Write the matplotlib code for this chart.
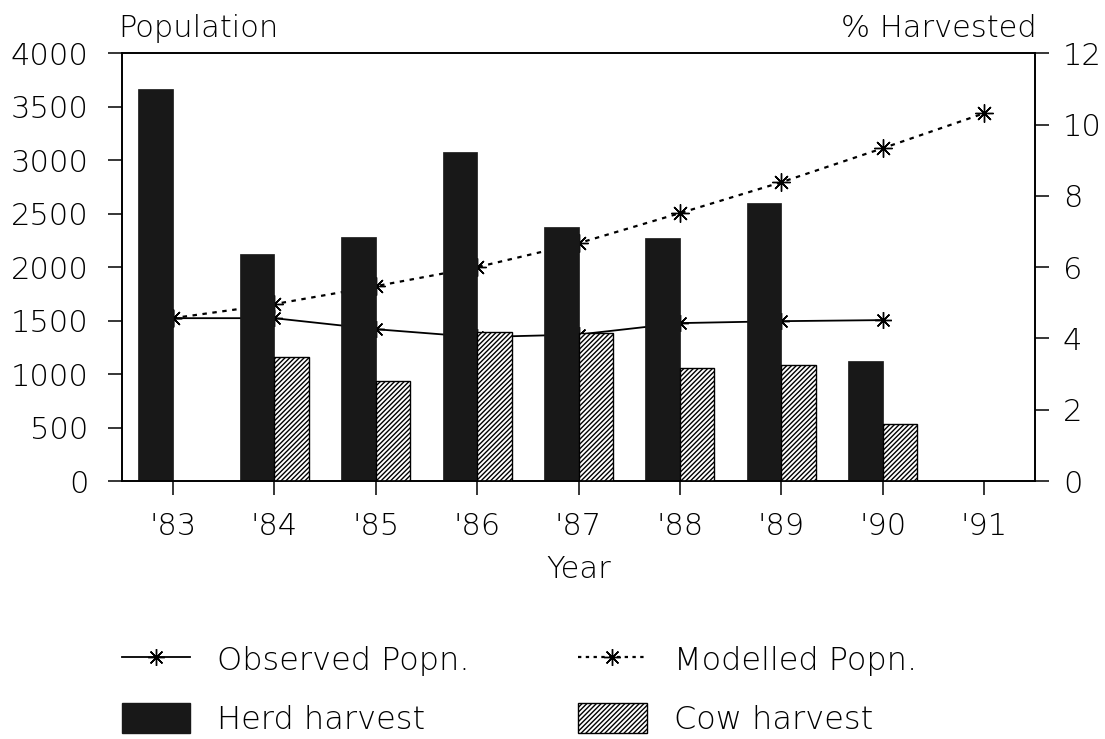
import matplotlib
matplotlib.use("Agg")
import matplotlib.pyplot as plt
from matplotlib.lines import Line2D
from matplotlib.patches import Patch
import numpy as np

plt.rcParams['font.family'] = ['DejaVu Sans']
plt.rcParams['font.weight'] = 'light'
plt.rcParams['axes.labelweight'] = 'light'
plt.rcParams['hatch.linewidth'] = 1.0

years = ["'83", "'84", "'85", "'86", "'87", "'88", "'89", "'90", "'91"]
observed_popn = [1523, 1523, 1420, 1346, 1370, 1477, 1495, 1505]
modelled_popn = [1523, 1654, 1822, 2000, 2224, 2505, 2794, 3112, 3439]
herd_harvest = [11.0, 6.36, 6.84, 9.22, 7.12, 6.81, 7.79, 3.36]
cow_harvest = [None, 3.49, 2.80, 4.18, 4.15, 3.17, 3.25, 1.60]

FS = 22
LFS = 23
fig = plt.figure(figsize=(11.05, 7.39), dpi=100)
ax = fig.add_axes([0.1104, 0.349, 0.8263, 0.579])
ax2 = ax.twinx()

x = np.arange(len(years))
ast = (8, 2, 0)
ax.plot(x[:len(observed_popn)], observed_popn, color='black', lw=1.3,
        marker=ast, markersize=12, mew=1.0)
ax.plot(x[:len(modelled_popn)], modelled_popn, color='black', lw=1.6,
        linestyle=(0, (2, 2.5)), marker=ast, markersize=13, mew=1.0)

w = 0.34
xb = x[:len(herd_harvest)]
ax2.bar(xb - w / 2, herd_harvest, width=w, color='#181818', edgecolor='#181818', lw=0.5)
xc = [i for i, v in enumerate(cow_harvest) if v is not None]
vc = [v for v in cow_harvest if v is not None]
ax2.bar(np.array(xc) + w / 2, vc, width=w, color='white', edgecolor='black',
        hatch='///////', lw=1.0)

ax.set_xlim(-0.5, 8.5)
ax.set_ylim(0, 4000)
ax2.set_ylim(0, 12)
ax.set_yticks(np.arange(0, 4001, 500))
ax2.set_yticks(np.arange(0, 13, 2))
ax.set_xticks(x)
ax.set_xticklabels(years)

for a in (ax, ax2):
    a.tick_params(labelsize=FS, length=10, width=1.1, direction='out', colors='black')
    for s in a.spines.values():
        s.set_linewidth(1.2)
ax.tick_params(axis='y', pad=14)
ax2.tick_params(axis='y', pad=10)
ax.tick_params(axis='x', pad=12)

ax.set_xlabel('Year', fontsize=FS, labelpad=10, fontweight='light')
fig.text(0.107, 0.962, 'Population', fontsize=FS, ha='left', va='center')
fig.text(0.938, 0.962, '% Harvested', fontsize=FS, ha='right', va='center')

h1 = Line2D([], [], color='black', lw=1.3, marker=ast, markersize=12, mew=1.0)
h2 = Line2D([], [], color='black', lw=1.6, linestyle=(0, (1.5, 2)), marker=ast,
            markersize=12, mew=1.0)
h3 = Patch(facecolor='#181818', edgecolor='#181818')
h4 = Patch(facecolor='white', edgecolor='black', hatch='///////')

common = dict(frameon=False, fontsize=LFS, handlelength=2.15, handleheight=1.05,
              handletextpad=0.85, labelspacing=0.85, borderpad=0, borderaxespad=0,
              loc='upper left')
fig.legend([h1, h3], ['Observed Popn.', 'Herd harvest'],
           bbox_to_anchor=(0.110, 0.128), **common)
fig.legend([h2, h4], ['Modelled Popn.', 'Cow harvest'],
           bbox_to_anchor=(0.523, 0.128), **common)

fig.savefig('out.png', dpi=100)
